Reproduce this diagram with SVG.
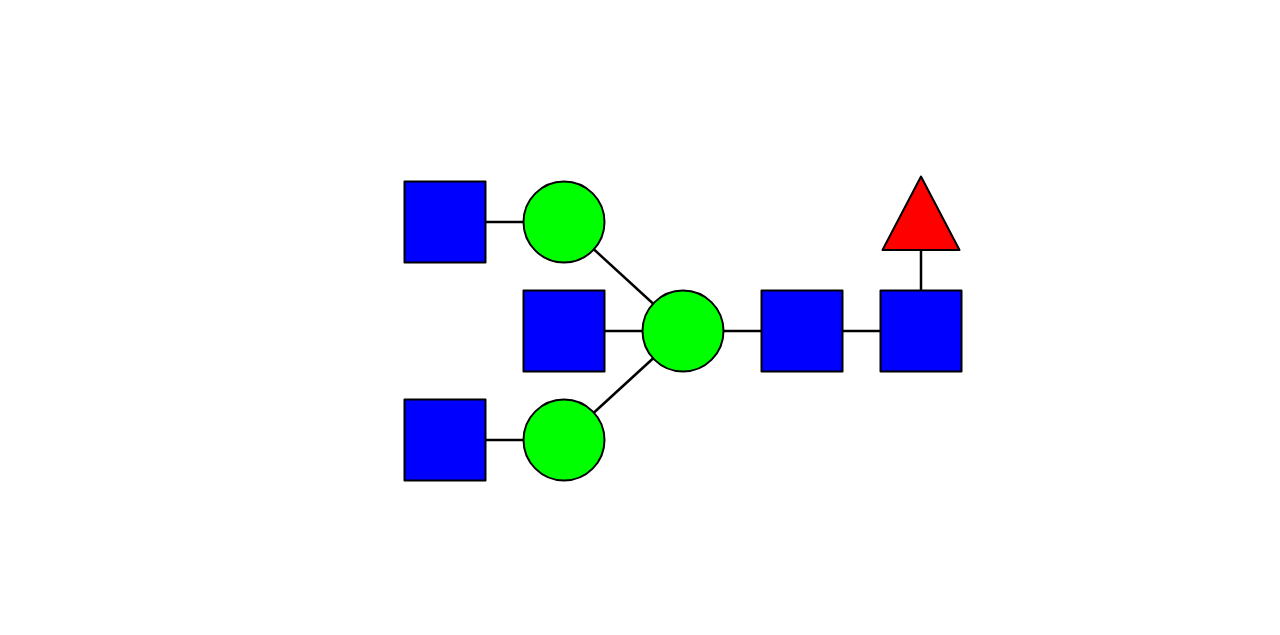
<svg xmlns="http://www.w3.org/2000/svg" width="1280" height="635" viewBox="0 0 1280 635">
<style>
.sq{fill:#0000ff;stroke:#000;stroke-width:2;stroke-linejoin:round}
.ci{fill:#00ff00;stroke:#000;stroke-width:2}
.tr{fill:#ff0000;stroke:#000;stroke-width:2;stroke-linejoin:round}
.ln{stroke:#000;stroke-width:2.5;fill:none}
</style>
<rect width="1280" height="635" fill="#fff"/>
<g id="connectors">
<line class="ln" x1="445" y1="222" x2="564" y2="222"/>
<line class="ln" x1="564" y1="222" x2="683" y2="331"/>
<line class="ln" x1="445" y1="440" x2="564" y2="440"/>
<line class="ln" x1="564" y1="440" x2="683" y2="331"/>
<line class="ln" x1="564" y1="331" x2="921" y2="331"/>
<line class="ln" x1="921" y1="331" x2="921" y2="230"/>
</g>
<g id="n1"><rect class="sq" x="404.5" y="181.5" width="81" height="81"/></g>
<g id="n2"><circle class="ci" cx="564" cy="222" r="40.5"/></g>
<g id="n3"><rect class="sq" x="523.5" y="290.5" width="81" height="81"/></g>
<g id="n4"><circle class="ci" cx="683" cy="331" r="40.5"/></g>
<g id="n5"><rect class="sq" x="404.5" y="399.5" width="81" height="81"/></g>
<g id="n6"><circle class="ci" cx="564" cy="440" r="40.5"/></g>
<g id="n7"><rect class="sq" x="761.5" y="290.5" width="81" height="81"/></g>
<g id="n8"><rect class="sq" x="880.5" y="290.5" width="81" height="81"/></g>
<g id="n9"><polygon class="tr" points="921,176.5 959.5,250 882.5,250"/></g>
</svg>
